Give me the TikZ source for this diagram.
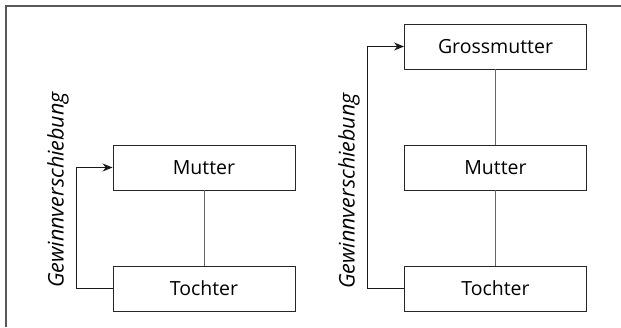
\documentclass[tikz,border=0pt]{standalone}
\usepackage{fontspec}
\setmainfont{Open Sans}
\usetikzlibrary{arrows.meta}
\begin{document}
\begin{tikzpicture}[x=1pt,y=-1pt,
  box/.style={draw=black!85,line width=0.9pt,minimum width=182pt,minimum height=45pt,inner sep=0pt,font=\fontsize{19.5}{22}\selectfont,text=black},
  link/.style={draw=black!60,line width=0.8pt},
  gainarrow/.style={draw=black!90,line width=0.9pt,-{Stealth[length=10pt,width=8pt]}},
  lab/.style={rotate=90,anchor=base,inner sep=0pt,font=\itshape\fontsize{21.5}{24}\selectfont,text=black}]
\useasboundingbox (0,0) rectangle (621,327);
\draw[draw=black!65,line width=1.4pt] (621,6) -- (6,6) -- (6,327);
% left
\node[box] (m1) at (204,167.5) {Mutter};
\node[box] (t1) at (204,288.5) {Tochter};
\draw[link] (m1) -- (t1);
\coordinate (a1) at (76,288.5);
\coordinate (b1) at (76,167.5);
\draw[gainarrow] (t1.west) -- (a1) -- (b1) -- (m1.west);
\node[lab] (g1) at (63.5,190) {Gewinnverschiebung};
% right
\node[box] (g2) at (495.5,46.5) {Grossmutter};
\node[box] (m2) at (495.5,167.5) {Mutter};
\node[box] (t2) at (495.5,288.5) {Tochter};
\draw[link] (g2) -- (m2);
\draw[link] (m2) -- (t2);
\coordinate (a2) at (367,288.5);
\coordinate (b2) at (367,46.5);
\draw[gainarrow] (t2.west) -- (a2) -- (b2) -- (g2.west);
\node[lab] (gl2) at (354.5,191) {Gewinnverschiebung};
\end{tikzpicture}
\end{document}
